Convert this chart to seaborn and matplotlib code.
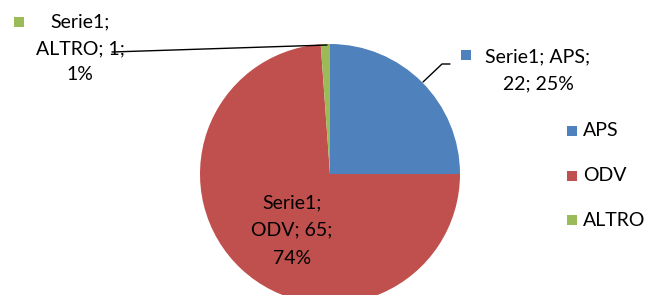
import matplotlib
matplotlib.use("Agg")
import matplotlib.pyplot as plt
import seaborn as sns
from matplotlib.patches import Rectangle
from matplotlib.lines import Line2D

series_name = "Serie1"
categories = ["APS", "ODV", "ALTRO"]
values = [22, 65, 1]
percents = ["25%", "74%", "1%"]
colors = ["#4F81BD", "#C0504D", "#9BBB59"]

sns.set_theme(style="white")
plt.rcParams['font.family'] = ['Lato', 'DejaVu Sans']

W, H = 648, 295
fig = plt.figure(figsize=(W / 100, H / 100), dpi=100)

def fx(px):
    return px / W

def fy(py):
    return 1 - py / H

cx, cy, r = 330, 174, 130
ax = fig.add_axes([fx(cx - r), fy(cy + r), 2 * r / W, 2 * r / H])
ax.pie(values, colors=colors, startangle=90, counterclock=False,
       wedgeprops=dict(linewidth=0))
ax.set_xlim(-1, 1)
ax.set_ylim(-1, 1)
ax.set_aspect("auto")
ax.axis("off")

fs = 14

def sq(px, py, color, size=10):
    fig.patches.append(Rectangle((fx(px - size / 2), fy(py + size / 2)), size / W, size / H,
                                 transform=fig.transFigure, facecolor=color, edgecolor="none"))

# leader lines
fig.lines.append(Line2D([fx(112), fx(327)], [fy(52), fy(45)], transform=fig.transFigure,
                        color="black", linewidth=1))
fig.lines.append(Line2D([fx(423), fx(442), fx(450)], [fy(82), fy(64), fy(64)], transform=fig.transFigure,
                        color="black", linewidth=1))

# ALTRO label
sq(19, 22, colors[2])
fig.text(fx(80), fy(22), f"{series_name};", ha="center", va="center", fontsize=fs, color="black")
fig.text(fx(80), fy(49), f"{categories[2]}; {values[2]};", ha="center", va="center", fontsize=fs, color="black")
fig.text(fx(80), fy(75), percents[2], ha="center", va="center", fontsize=fs, color="black")

# APS label
sq(466, 55, colors[0])
fig.text(fx(538), fy(57), f"{series_name}; {categories[0]};", ha="center", va="center", fontsize=fs, color="black")
fig.text(fx(538), fy(84), f"{values[0]}; {percents[0]}", ha="center", va="center", fontsize=fs, color="black")

# ODV label
fig.text(fx(292), fy(203), f"{series_name};", ha="center", va="center", fontsize=fs, color="black")
fig.text(fx(292), fy(230), f"{categories[1]}; {values[1]};", ha="center", va="center", fontsize=fs, color="black")
fig.text(fx(292), fy(258), percents[1], ha="center", va="center", fontsize=fs, color="black")

# legend
for i, (cat, col) in enumerate(zip(categories, colors)):
    y = 131 + i * 44.5
    sq(572, y, col)
    fig.text(fx(583), fy(y), cat, ha="left", va="center", fontsize=fs, color="black")

fig.savefig("out.png", dpi=100, facecolor="white")
